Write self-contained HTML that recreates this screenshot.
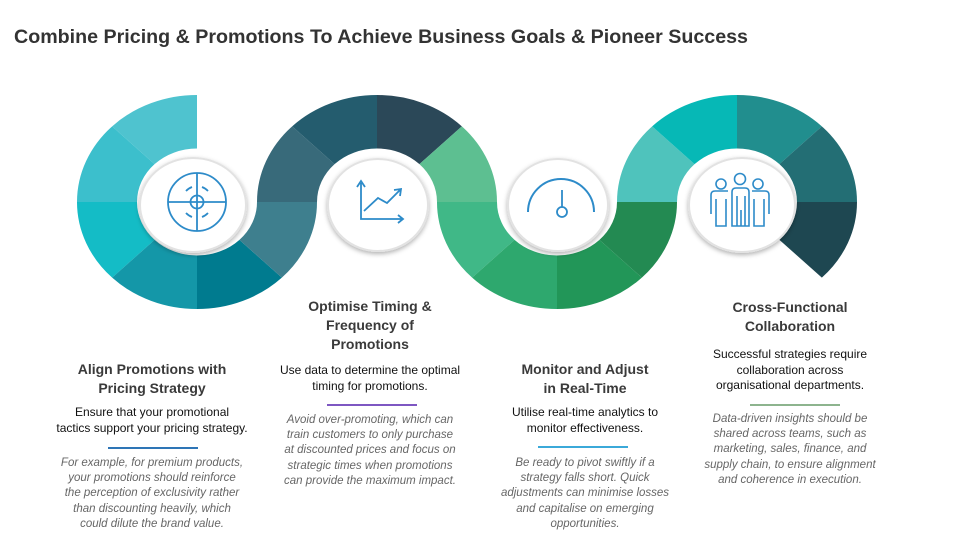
<!DOCTYPE html>
<html><head><meta charset="utf-8"><style>
body{margin:0;width:960px;height:553px;background:#fff;overflow:hidden;position:relative;font-family:"Liberation Sans",sans-serif}
.c{position:absolute;text-align:center;white-space:nowrap}
.t{font-weight:bold;font-size:14px;line-height:19px;color:#3a3a3a}
.b{font-size:12px;line-height:15.5px;color:#111}
.i{font-style:italic;font-size:11.5px;line-height:15.2px;color:#666}
.ln{position:absolute;height:2px}
</style></head><body>
<svg width="960" height="553" style="position:absolute;left:0;top:0">
<defs><filter id="sh" x="-30%" y="-30%" width="160%" height="160%"><feDropShadow dx="0" dy="2" stdDeviation="2.5" flood-color="#000" flood-opacity="0.3"/></filter></defs>
<text x="14" y="43" font-family="Liberation Sans" font-weight="bold" font-size="19.5" fill="#333" textLength="734" lengthAdjust="spacingAndGlyphs">Combine Pricing &amp; Promotions To Achieve Business Goals &amp; Pioneer Success</text>
<!-- ring1 -->
<g transform="translate(197,202) scale(1,0.8917)">
<path d="M0,-120 A120,120 0 0 0 -84.85,-84.85 L-42.43,-42.43 A60,60 0 0 1 0,-60Z" fill="#4FC3CF"/>
<path d="M-84.85,-84.85 A120,120 0 0 0 -120,0 L-60,0 A60,60 0 0 1 -42.43,-42.43Z" fill="#3CBFCC"/>
<path d="M-120,0 A120,120 0 0 0 -84.85,84.85 L-42.43,42.43 A60,60 0 0 1 -60,0Z" fill="#14BCC6"/>
<path d="M-84.85,84.85 A120,120 0 0 0 0,120 L0,60 A60,60 0 0 1 -42.43,42.43Z" fill="#1497A8"/>
<path d="M0,120 A120,120 0 0 0 84.85,84.85 L42.43,42.43 A60,60 0 0 1 0,60Z" fill="#007B8F"/>
<path d="M84.85,84.85 A120,120 0 0 0 120,0 L60,0 A60,60 0 0 1 42.43,42.43Z" fill="#3E7F8E"/>
</g>
<!-- ring2 -->
<g transform="translate(377,202) scale(1,0.8917)">
<path d="M-84.85,-84.85 A120,120 0 0 0 -120,0 L-60,0 A60,60 0 0 1 -42.43,-42.43Z" fill="#386A7A"/>
<path d="M0,-120 A120,120 0 0 0 -84.85,-84.85 L-42.43,-42.43 A60,60 0 0 1 0,-60Z" fill="#245C6E"/>
<path d="M84.85,-84.85 A120,120 0 0 0 0,-120 L0,-60 A60,60 0 0 1 42.43,-42.43Z" fill="#2B4858"/>
<path d="M120,0 A120,120 0 0 0 84.85,-84.85 L42.43,-42.43 A60,60 0 0 1 60,0Z" fill="#5DBF91"/>
</g>
<!-- ring3 -->
<g transform="translate(557,202) scale(1,0.8917)">
<path d="M-120,0 A120,120 0 0 0 -84.85,84.85 L-42.43,42.43 A60,60 0 0 1 -60,0Z" fill="#40B887"/>
<path d="M-84.85,84.85 A120,120 0 0 0 0,120 L0,60 A60,60 0 0 1 -42.43,42.43Z" fill="#2EA86E"/>
<path d="M0,120 A120,120 0 0 0 84.85,84.85 L42.43,42.43 A60,60 0 0 1 0,60Z" fill="#229658"/>
<path d="M84.85,84.85 A120,120 0 0 0 120,0 L60,0 A60,60 0 0 1 42.43,42.43Z" fill="#238A52"/>
</g>
<!-- ring4 -->
<g transform="translate(737,202) scale(1,0.8917)">
<path d="M-84.85,-84.85 A120,120 0 0 0 -120,0 L-60,0 A60,60 0 0 1 -42.43,-42.43Z" fill="#4FC3BC"/>
<path d="M0,-120 A120,120 0 0 0 -84.85,-84.85 L-42.43,-42.43 A60,60 0 0 1 0,-60Z" fill="#06B8B6"/>
<path d="M84.85,-84.85 A120,120 0 0 0 0,-120 L0,-60 A60,60 0 0 1 42.43,-42.43Z" fill="#218E8E"/>
<path d="M120,0 A120,120 0 0 0 84.85,-84.85 L42.43,-42.43 A60,60 0 0 1 60,0Z" fill="#236E74"/>
<path d="M84.85,84.85 A120,120 0 0 0 120,0 L60,0 A60,60 0 0 1 42.43,42.43Z" fill="#1E4751"/>
</g>
<!-- white circles -->
<g fill="#fff" stroke="#e2e2e2" stroke-width="2" filter="url(#sh)">
<ellipse cx="193" cy="205" rx="53" ry="47"/>
<ellipse cx="378" cy="205" rx="50" ry="46"/>
<ellipse cx="558" cy="205" rx="50" ry="46"/>
<ellipse cx="742" cy="205" rx="53" ry="47"/>
</g>
<!-- icons -->
<g fill="none" stroke="#2D8BC9" stroke-width="1.8">
<circle cx="197" cy="202" r="29"/>
<circle cx="197" cy="202" r="6.5"/>
<line x1="168" y1="202" x2="226" y2="202"/><line x1="197" y1="173" x2="197" y2="231"/>
<path d="M186,191 A16,16 0 0 1 192,187 M208,191 A16,16 0 0 0 202,187 M186,213 A16,16 0 0 0 192,217 M208,213 A16,16 0 0 1 202,217"/>
<path d="M361,183 V219 H402 M357,187 L361,181 L365,187 M398,215 L403,219 L398,223"/>
<path d="M364,211 L378,198 L387,203 L401,189 M394,190 L401,189 L400,196"/>
<path d="M528,212 A32,32 0 0 1 594,212" stroke-width="2"/>
<line x1="562" y1="190" x2="562" y2="207"/><circle cx="562" cy="212" r="5"/>
<g stroke-width="1.6">
<circle cx="721" cy="184" r="5"/><circle cx="740" cy="179" r="5.5"/><circle cx="758" cy="184" r="5"/>
<path d="M711,214 V195 Q711,191 715,191 H728 M732,226 V192 Q732,188 736,188 H745 Q749,188 749,192 V226 Z M752,191 H765 Q769,191 769,195 V214 M716,199 V226 H726 V199 M764,199 V226 H754 V199 M737,196 V226 M745,196 V226 M741,210 V226"/>
</g>
</g>
</svg>

<div class="c t" style="left:52px;width:200px;top:360px">Align Promotions with<br>Pricing Strategy</div>
<div class="c b" style="left:52px;width:200px;top:405px">Ensure that your promotional<br>tactics support your pricing strategy.</div>
<div class="ln" style="left:108px;width:90px;top:447px;background:#2E75B6"></div>
<div class="c i" style="left:42px;width:220px;top:456px">For example, for premium products,<br>your promotions should reinforce<br>the perception of exclusivity rather<br>than discounting heavily, which<br>could dilute the brand value.</div>

<div class="c t" style="left:270px;width:200px;top:297px">Optimise Timing &amp;<br>Frequency of<br>Promotions</div>
<div class="c b" style="left:270px;width:200px;top:363px">Use data to determine the optimal<br>timing for promotions.</div>
<div class="ln" style="left:327px;width:90px;top:404px;background:#7E57C2"></div>
<div class="c i" style="left:260px;width:220px;top:413px">Avoid over-promoting, which can<br>train customers to only purchase<br>at discounted prices and focus on<br>strategic times when promotions<br>can provide the maximum impact.</div>

<div class="c t" style="left:485px;width:200px;top:360px">Monitor and Adjust<br>in Real-Time</div>
<div class="c b" style="left:485px;width:200px;top:405px">Utilise real-time analytics to<br>monitor effectiveness.</div>
<div class="ln" style="left:538px;width:90px;top:446px;background:#3BA9D9"></div>
<div class="c i" style="left:475px;width:220px;top:456px">Be ready to pivot swiftly if a<br>strategy falls short. Quick<br>adjustments can minimise losses<br>and capitalise on emerging<br>opportunities.</div>

<div class="c t" style="left:690px;width:200px;top:298px">Cross-Functional<br>Collaboration</div>
<div class="c b" style="left:690px;width:200px;top:347px">Successful strategies require<br>collaboration across<br>organisational departments.</div>
<div class="ln" style="left:750px;width:90px;top:404px;background:#8DB48E"></div>
<div class="c i" style="left:680px;width:220px;top:412px">Data-driven insights should be<br>shared across teams, such as<br>marketing, sales, finance, and<br>supply chain, to ensure alignment<br>and coherence in execution.</div>
</body></html>
